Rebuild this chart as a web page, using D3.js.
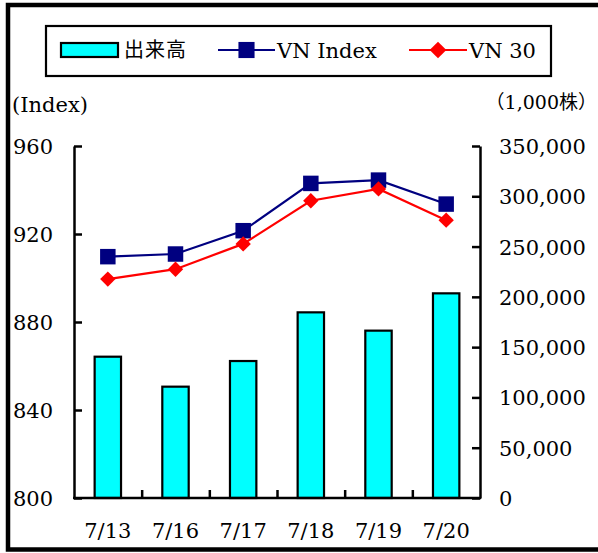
<!DOCTYPE html>
<html>
<head>
<meta charset="utf-8">
<script src="https://cdn.jsdelivr.net/npm/d3@7"></script>
<style>
  body { margin: 0; background: #fff; }
  svg { display: block; }
</style>
</head>
<body>
<svg id="chart"></svg>
<script>
// data
const days = ['7/13', '7/16', '7/17', '7/18', '7/19', '7/20'];
const volume = [140500, 110700, 136200, 184600, 166400, 203500]; // 出来高 (1,000株)
const vnIndex = [909.7, 910.9, 921.5, 943.0, 944.5, 933.6];
const vn30 = [899.5, 904.0, 915.5, 935.1, 940.5, 926.3];
const leftTicks = [800, 840, 880, 920, 960];
const rightTicks = [0, 50000, 100000, 150000, 200000, 250000, 300000, 350000];

const W = 598, H = 553;
const plotL = 74, plotR = 480, plotT = 146, plotB = 498;
const serif = '"DejaVu Serif", "Liberation Serif", serif';
const cjk = '"Noto Sans CJK JP", sans-serif';

const svg = d3.select('#chart')
  .attr('width', W)
  .attr('height', H)
  .style('font-family', serif);

// outer frame (right side runs off the picture)
svg.append('rect')
  .attr('x', 8).attr('y', 5)
  .attr('width', 700).attr('height', 544.5)
  .attr('fill', 'none')
  .attr('stroke', '#000')
  .attr('stroke-width', 4.5);

// scales
const x = d3.scaleBand().domain(days).range([plotL, plotR]);
const xEdge = d3.scaleLinear().domain([0, days.length]).range([plotL, plotR]);
const yL = d3.scaleLinear().domain([800, 960]).range([plotB, plotT]);
const yR = d3.scaleLinear().domain([0, 350000]).range([plotB, plotT]);
const barW = x.bandwidth() * 0.39;

// bars
svg.append('g')
  .selectAll('rect')
  .data(volume)
  .join('rect')
    .attr('x', (d, i) => x(days[i]) + x.bandwidth() / 2 - barW / 2)
    .attr('y', d => yR(d))
    .attr('width', barW)
    .attr('height', d => yR(0) - yR(d))
    .attr('fill', '#00ffff')
    .attr('stroke', '#000')
    .attr('stroke-width', 2.2);

// axes
function styleAxis(g) {
  g.selectAll('path, line').attr('stroke', '#000').attr('stroke-width', 2.5);
  g.selectAll('text').attr('fill', '#000').style('font-family', serif).style('font-size', '21px');
}

svg.append('g')
  .attr('transform', `translate(${plotL},0)`)
  .call(d3.axisLeft(yL).tickValues(leftTicks).tickSizeInner(-8).tickSizeOuter(0).tickPadding(21))
  .call(styleAxis)
  .call(g => g.selectAll('text').attr('dy', '0.36em'));

svg.append('g')
  .attr('transform', `translate(${plotR},0)`)
  .call(d3.axisRight(yR).tickValues(rightTicks).tickSizeInner(-8).tickSizeOuter(0).tickPadding(19).tickFormat(d3.format(',')))
  .call(styleAxis)
  .call(g => g.selectAll('text').attr('dy', '0.36em'));

svg.append('g')
  .attr('transform', `translate(0,${plotB})`)
  .call(d3.axisBottom(x).tickSize(0).tickPadding(25))
  .call(styleAxis)
  .call(g => g.select('.domain').attr('d', `M${plotL - 1},0H${plotR + 1}`));

svg.append('g')
  .attr('transform', `translate(0,${plotB})`)
  .call(d3.axisBottom(xEdge).tickValues([1, 2, 3, 4, 5]).tickSizeInner(-8).tickSizeOuter(0).tickFormat(''))
  .call(styleAxis)
  .call(g => g.select('.domain').remove());

// lines
const cx = i => x(days[i]) + x.bandwidth() / 2;

function drawSeries(values, color, symbol, size, rotate) {
  svg.append('path')
    .datum(values)
    .attr('fill', 'none')
    .attr('stroke', color)
    .attr('stroke-width', 2.2)
    .attr('d', d3.line().x((d, i) => cx(i)).y(d => yL(d)));
  svg.append('g')
    .selectAll('path')
    .data(values)
    .join('path')
      .attr('d', d3.symbol().type(symbol).size(size))
      .attr('transform', (d, i) => `translate(${cx(i)},${yL(d)}) rotate(${rotate})`)
      .attr('fill', color);
}

drawSeries(vnIndex, '#000080', d3.symbolSquare, 240, 0);
drawSeries(vn30, '#ff0000', d3.symbolSquare, 118, 45);

// axis titles
svg.append('text')
  .attr('x', 12).attr('y', 112)
  .style('font-size', '21px')
  .text('(Index)');

svg.append('text')
  .attr('x', 597).attr('y', 109)
  .attr('text-anchor', 'end')
  .style('font-size', '19px')
  .style('font-family', serif + ', ' + cjk)
  .text('（1,000株）');

// legend
const legend = svg.append('g');
legend.append('rect')
  .attr('x', 46).attr('y', 26)
  .attr('width', 505).attr('height', 50)
  .attr('fill', '#fff')
  .attr('stroke', '#000')
  .attr('stroke-width', 2.2);

const ly = 50;
legend.append('rect')
  .attr('x', 61).attr('y', ly - 7)
  .attr('width', 57).attr('height', 14)
  .attr('fill', '#00ffff')
  .attr('stroke', '#000')
  .attr('stroke-width', 2.2);
legend.append('text')
  .attr('x', 124).attr('y', ly)
  .attr('dy', '0.36em')
  .style('font-family', cjk)
  .style('font-size', '20px')
  .style('letter-spacing', '1px')
  .text('出来高');

const lineItems = [
  { name: 'VN Index', color: '#000080', x0: 218, x1: 275, symbol: d3.symbolSquare, size: 260, rotate: 0 },
  { name: 'VN 30', color: '#ff0000', x0: 409, x1: 467, symbol: d3.symbolSquare, size: 140, rotate: 45 }
];
lineItems.forEach(it => {
  legend.append('line')
    .attr('x1', it.x0).attr('x2', it.x1)
    .attr('y1', ly).attr('y2', ly)
    .attr('stroke', it.color)
    .attr('stroke-width', 2.2);
  legend.append('path')
    .attr('d', d3.symbol().type(it.symbol).size(it.size))
    .attr('transform', `translate(${(it.x0 + it.x1) / 2},${ly}) rotate(${it.rotate})`)
    .attr('fill', it.color);
  legend.append('text')
    .attr('x', it.x1 + 2).attr('y', ly)
    .attr('dy', '0.36em')
    .style('font-size', '21px')
    .text(it.name);
});
</script>
</body>
</html>
